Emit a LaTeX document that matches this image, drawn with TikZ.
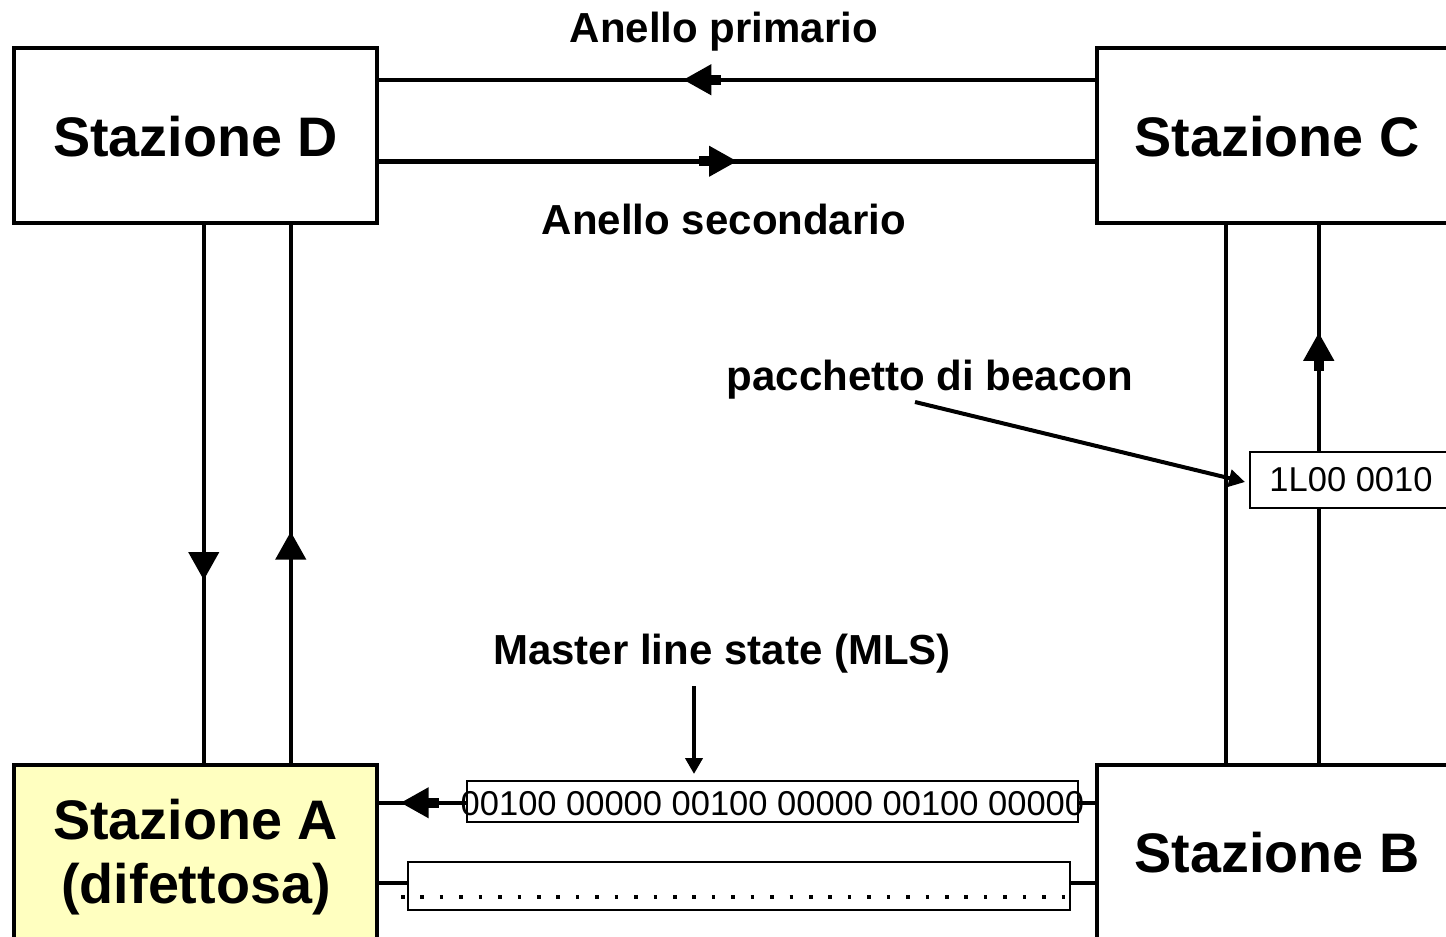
\documentclass[tikz,border=0pt]{standalone}
\usepackage{fontspec}
\setmainfont{Liberation Sans}
\usetikzlibrary{arrows.meta,decorations.markings}
\definecolor{faulty}{RGB}{255,255,192}
\tikzset{
  station/.style={draw, line width=4.5pt, minimum width=363pt, minimum height=175pt, inner sep=0pt, align=center, font=\bfseries\fontsize{55.7}{65}\selectfont},
  stext/.style={font=\bfseries\fontsize{55.7}{65}\selectfont, inner sep=0pt, anchor=base},
  label/.style={font=\bfseries\fontsize{42}{48}\selectfont, inner sep=0pt, anchor=base},
  wire/.style={line width=4.5pt},
  midarrow/.style={postaction={decorate}, decoration={markings, mark=at position #1 with {\arrow{Triangle[length=28pt,width=30pt]}; \fill (-38pt,-5pt) rectangle (-26pt,5pt);}}},
  plainarrow/.style={postaction={decorate}, decoration={markings, mark=at position #1 with {\arrow{Triangle[length=28pt,width=30pt]}}}},
  databox/.style={draw, line width=2pt, fill=white, inner sep=0pt},
  datatext/.style={font=\fontsize{34.5}{40}\selectfont, inner sep=0pt, anchor=base},
  pointer/.style={line width=4pt, -{Triangle[length=16pt,width=17pt]}}
}
\begin{document}
\begin{tikzpicture}[x=1pt,y=-1pt]
\useasboundingbox (0,0) rectangle (1446,937);
\clip (0,0) rectangle (1446,937);
\fill[white] (0,0) rectangle (1446,937);

% stations
\node[station] (D) at (195.5,135.5) {};
\node[station] (C) at (1278.5,135.5) {};
\node[station, fill=faulty] (A) at (195.5,852.5) {};
\node[station] (B) at (1278.5,852.5) {};

% station texts
\node[stext] (Dt) at (195.5,156) {Stazione D};
\node[stext] (Ct) at (1277,156) {Stazione C};
\node[stext] (Bt) at (1277,872) {Stazione B};
\node[stext] (At1) at (195.5,839) {Stazione A};
\node[stext] (At2) at (196,903) {(difettosa)};

% top rings
\draw[wire, midarrow=0.575] ([yshift=-34pt]C.north west) -- ([yshift=-34pt]D.north east);
\draw[wire, midarrow=0.50] ([yshift=64pt]D.south east) -- ([yshift=64pt]C.south west);

% left verticals
\draw[wire, plainarrow=0.66] ([xshift=192pt]D.south west) -- ([xshift=192pt]A.north west);
\draw[wire, plainarrow=0.43] ([xshift=279pt]A.north west) -- ([xshift=279pt]D.south west);

% right verticals
\draw[wire] ([xshift=131pt]C.south west) -- ([xshift=131pt]B.north west);
\draw[wire, midarrow=0.80] ([xshift=224pt]B.north west) -- ([xshift=224pt]C.south west);

% bottom lines
\draw[wire, midarrow=0.97] ([yshift=-40pt]B.north west) -- ([yshift=-40pt]A.north east);
\draw[wire] ([yshift=-120pt]A.north east) -- ([yshift=-120pt]B.north west);

% data boxes
\node[databox, minimum width=202pt, minimum height=56pt] (beacon) at (1351,480) {};
\node[datatext] (beacont) at (1351,491) {1L00 0010};
\node[databox, minimum width=611pt, minimum height=41pt] (mls) at (772.5,801.5) {};
\node[datatext] (mlst) at (772.5,815) {00100 00000 00100 00000 00100 00000};
\node[databox, minimum width=662pt, minimum height=48pt] (idle) at (739,886) {};
\coordinate (dotL) at (401,897);
\coordinate (dotR) at (1081,897);
\draw[line width=3.5pt, dash pattern=on 3.5pt off 15.93pt] (dotL) -- (dotR);

% labels
\node[label] (prim) at (724,42) {Anello primario};
\node[label] (sec) at (724,234) {Anello secondario};
\node[label] (beaconlbl) at (930,390) {pacchetto di beacon};
\node[label] (mlslbl) at (722,664) {Master line state (MLS)};

% pointers
\coordinate (bstart) at (915,402);
\draw[pointer] (bstart) -- ([xshift=-4pt,yshift=-2pt]beacon.west);
\coordinate (mstart) at (694,686);
\draw[pointer] (mstart) -- ([yshift=6pt]mstart |- mls.north);
\end{tikzpicture}
\end{document}
